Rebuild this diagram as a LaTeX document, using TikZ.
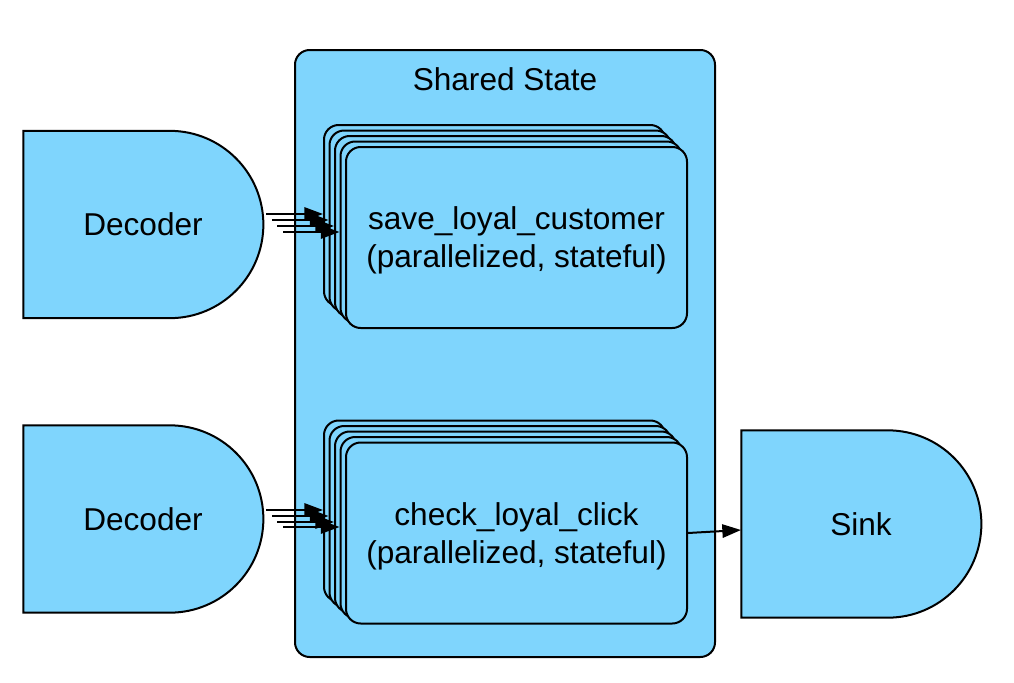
\documentclass[tikz,border=0pt]{standalone}
\usepackage{fontspec}
\setmainfont{Liberation Sans}
\usetikzlibrary{shapes.misc,arrows.meta}
\definecolor{stateblue}{RGB}{127,213,253}
\tikzset{every picture/.style={line width=1.5pt}}
\tikzset{
  labelfont/.style={font=\fontsize{23.7}{28.5}\selectfont},
  dshape/.style={draw, fill=stateblue, rounded rectangle, rounded rectangle west arc=none,
    minimum width=180pt, minimum height=140.5pt, inner sep=0pt, labelfont},
  opbox/.style={draw, fill=stateblue, rounded corners=11pt, minimum width=255.75pt,
    minimum height=135.75pt, inner sep=0pt, align=center, text depth=0pt, labelfont},
  feed/.style={-{Triangle[length=14pt,width=10pt]}}
}

\begin{document}
\begin{tikzpicture}[x=0.75pt,y=0.75pt,yscale=-1,xscale=1]
\useasboundingbox (0,0) rectangle (1014,682);

% Shared state
\node [draw, fill=stateblue, rounded corners=11pt, minimum width=315pt, minimum height=455.25pt] (state) at (505,353.5) {};
\node [labelfont] (statelabel) at (505,79) {Shared State};

% Decoders and sink
\node [dshape] (dec1) at (143,224.5) {Decoder};
\node [dshape] (dec2) at (143,519) {Decoder};
\node [dshape] (sink) at (861,524) {Sink};

% Stacked operators
\foreach \k in {4,3,2,1} {
  \node [opbox] (save\k) at (516.5-5.5*\k,237.5-5.5*\k) {};
}
\node [opbox] (save) at (516.5,237.5) {save\_loyal\_customer\\(parallelized, stateful)};
\foreach \k in {4,3,2,1} {
  \node [opbox] (check\k) at (516.5-5.5*\k,533-5.5*\k) {};
}
\node [opbox] (check) at (516.5,533) {check\_loyal\_click\\(parallelized, stateful)};

% Connections
\foreach \k/\x/\ya/\yb in {4/266/214/510,3/272/220/516,2/277/226/522,1/283/232/527} {
  \coordinate (in1\k) at (\x,\ya);
  \coordinate (in2\k) at (\x,\yb);
  \draw [feed] (in1\k) -- (in1\k -| save\k.west);
  \draw [feed] (in2\k) -- (in2\k -| check\k.west);
}
\coordinate (sinkin) at (741,530);
\draw [feed] (check.east) -- (sinkin);

\end{tikzpicture}
\end{document}
